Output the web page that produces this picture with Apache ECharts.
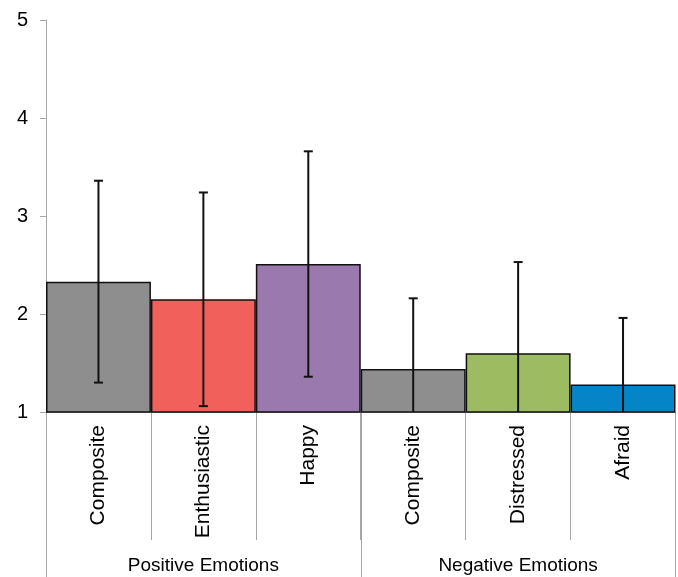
<!DOCTYPE html>
<html><head><meta charset="utf-8">
<script src="https://cdn.jsdelivr.net/npm/echarts@6/dist/echarts.min.js"></script>
<style>html,body{margin:0;padding:0;background:#fff}#c{width:678px;height:577px}</style>
</head><body><div id="c"></div>
<script>
const categories = ['Composite','Enthusiastic','Happy','Composite','Distressed','Afraid'];
const groups = ['Positive Emotions','Negative Emotions'];
const means = [2.33, 2.15, 2.51, 1.44, 1.60, 1.28];
const errors = [1.03, 1.09, 1.15, 0.72, 0.93, 0.68];
const colors = ['#8e8e8e','#f2605b','#9a7aae','#8e8e8e','#9dbb61','#0585c7'];
const yTicks = [1,2,3,4,5];

const chart = echarts.init(document.getElementById('c'));
const FONT = 'Liberation Sans, Arial, sans-serif';
const yMin = yTicks[0], yMax = yTicks[yTicks.length-1];
chart.setOption({
  animation:false,
  grid:{left:46,right:2.5,top:20,bottom:165,containLabel:false},
  xAxis:[{
    type:'category', data:categories, position:'bottom',
    axisLine:{show:true,lineStyle:{color:'#a6a6a6',width:1}},
    axisTick:{show:true,length:128,interval:0,lineStyle:{color:'#a6a6a6',width:1}},
    axisLabel:{rotate:90,margin:13,fontSize:21,color:'#000',fontFamily:FONT,interval:0}
  },{
    type:'category', data:groups, position:'bottom',
    axisLine:{show:false},
    axisTick:{show:true,length:166,interval:0,lineStyle:{color:'#a6a6a6',width:1}},
    axisLabel:{margin:144,fontSize:19,color:'#000',fontFamily:FONT,interval:0}
  }],
  yAxis:{
    type:'value', min:yMin, max:yMax, interval:1,
    axisLine:{show:true,lineStyle:{color:'#a6a6a6',width:1}},
    axisTick:{show:true,length:6,lineStyle:{color:'#a6a6a6'}},
    splitLine:{show:false},
    axisLabel:{margin:18,fontSize:20,color:'#000',fontFamily:FONT,
      formatter:v=>yTicks.includes(v)?String(v):''}
  },
  series:[{
    type:'bar', xAxisIndex:0, barCategoryGap:'0%',
    data:means.map((v,i)=>({value:v,itemStyle:{color:colors[i]}})),
    itemStyle:{borderColor:'#111',borderWidth:1.5}
  },{
    type:'custom', xAxisIndex:0, z:10,
    data:means.map((m,i)=>[i,m-errors[i],m+errors[i]]),
    renderItem:function(params,api){
      const i=api.value(0), lo=api.value(1), hi=api.value(2);
      const top=api.coord([i,Math.min(hi,yMax)]);
      const bot=api.coord([i,Math.max(lo,yMin)]);
      const hw=4.5;
      const ch=[{type:'line',shape:{x1:top[0],y1:top[1],x2:bot[0],y2:bot[1]},style:{stroke:'#111',lineWidth:2}}];
      if(hi<=yMax) ch.push({type:'line',shape:{x1:top[0]-hw,y1:top[1],x2:top[0]+hw,y2:top[1]},style:{stroke:'#111',lineWidth:2}});
      if(lo>=yMin) ch.push({type:'line',shape:{x1:bot[0]-hw,y1:bot[1],x2:bot[0]+hw,y2:bot[1]},style:{stroke:'#111',lineWidth:2}});
      return {type:'group',children:ch};
    }
  }]
});
</script></body></html>
